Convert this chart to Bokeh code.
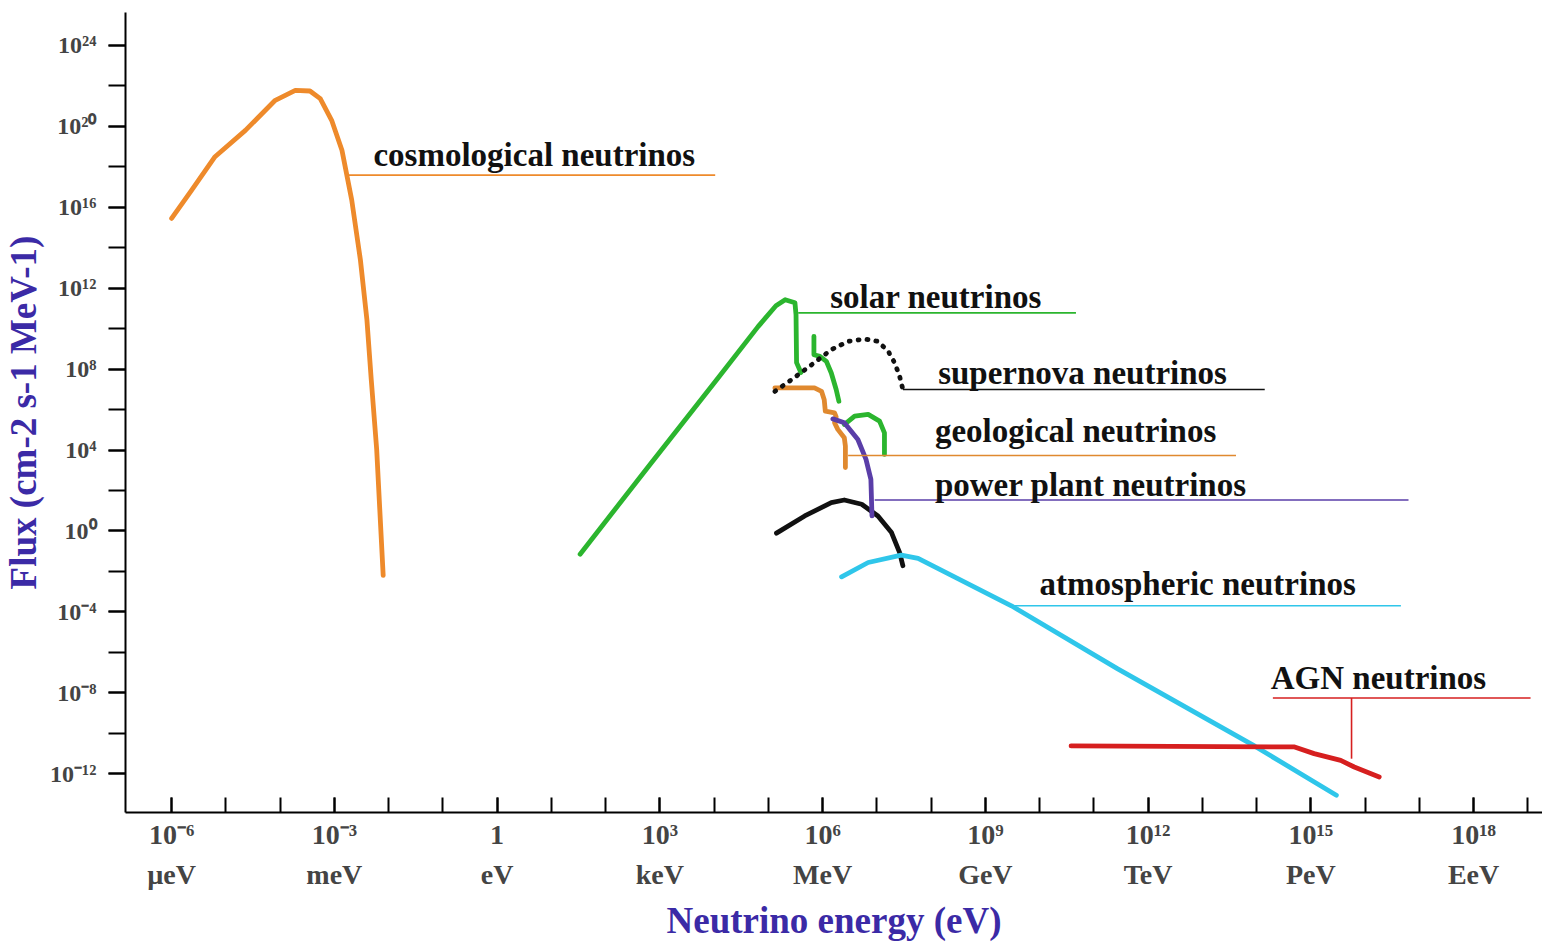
import numpy as np
from bokeh.plotting import figure
from bokeh.models import Range1d, FixedTicker, CustomJSTickFormatter
from bokeh.core.properties import value
from bokeh.embed import file_html
from bokeh.resources import INLINE

# ---------------- data (log10 energy [eV], log10 flux) ----------------
cosmo_logE = [-6.0, -5.63, -5.2, -4.64, -4.09, -3.72, -3.45, -3.26, -3.05, -2.86, -2.68, -2.52, -2.4, -2.32, -2.22, -2.1]
cosmo_logF = [15.45, 16.85, 18.5, 19.8, 21.29, 21.78, 21.75, 21.37, 20.3, 18.82, 16.36, 13.4, 10.44, 7.48, 4.03, -2.2]

solar_logE = [1.53, 2.79, 4.08, 4.81, 5.14, 5.31, 5.49, 5.51, 5.52, 5.6]
solar_logF = [-1.15, 3.19, 7.58, 10.1, 11.13, 11.43, 11.28, 10.69, 8.32, 7.83]
solar2_logE = [5.84, 5.84, 5.95, 6.07, 6.16, 6.25, 6.3]
solar2_logF = [9.62, 8.71, 8.63, 8.38, 7.81, 6.99, 6.41]
solar3_logE = [6.4, 6.59, 6.84, 7.05, 7.14, 7.14]
solar3_logF = [5.26, 5.67, 5.76, 5.43, 4.85, 3.78]

supernova_logE = [5.12, 5.43, 5.8, 6.16, 6.47, 6.78, 7.02, 7.21, 7.33, 7.42, 7.48]
supernova_logF = [6.9, 7.48, 8.22, 8.96, 9.37, 9.49, 9.37, 8.88, 8.3, 7.64, 6.99]

geo_logE = [5.12, 5.85, 5.98, 6.03, 6.05, 6.22, 6.25, 6.22, 6.28, 6.4, 6.42, 6.42]
geo_logF = [7.07, 7.07, 6.9, 6.49, 5.92, 5.84, 5.64, 5.35, 5.02, 4.61, 4.19, 3.13]

power_logE = [6.19, 6.4, 6.65, 6.8, 6.89, 6.91]
power_logF = [5.54, 5.35, 4.52, 3.54, 2.55, 0.74]

black_logE = [5.15, 5.67, 6.16, 6.4, 6.72, 7.02, 7.27, 7.42, 7.48]
black_logF = [-0.11, 0.74, 1.4, 1.53, 1.32, 0.74, -0.08, -1.07, -1.72]

atmo_logE = [6.35, 6.84, 7.45, 7.76, 9.48, 11.44, 13.96, 15.47]
atmo_logF = [-2.27, -1.56, -1.2, -1.36, -3.7, -6.82, -10.63, -13.07]

agn_logE = [10.58, 14.7, 15.06, 15.55, 15.8, 16.26]
agn_logF = [-10.63, -10.68, -11.01, -11.34, -11.67, -12.16]

# ---------------- tick labels ----------------
x_label_exps = [-6, -3, 0, 3, 6, 9, 12, 15, 18]
x_label_text = ["10\u207b\u2076\n\u00b5eV", "10\u207b\u00b3\nmeV", "1\neV", "10\u00b3\nkeV", "10\u2076\nMeV",
                "10\u2079\nGeV", "10\u00b9\u00b2\nTeV", "10\u00b9\u2075\nPeV", "10\u00b9\u2078\nEeV"]
x_minor_exps = list(range(-6, 20))
y_label_exps = [24, 20, 16, 12, 8, 4, 0, -4, -8, -12]
y_label_text = ["10\u00b2\u2074", "10\u00b2\u2070", "10\u00b9\u2076", "10\u00b9\u00b2", "10\u2078", "10\u2074",
                "10\u2070", "10\u207b\u2074", "10\u207b\u2078", "10\u207b\u00b9\u00b2"]
y_minor_exps = list(range(-12, 25, 2))

FONT = "Liberation Serif"
AXIS_BLUE = "#3b2aa6"

p = figure(width=1542, height=943, x_axis_type="log", y_axis_type="log",
           x_range=Range1d(10 ** -6.85, 10 ** 19.27), y_range=Range1d(10 ** -13.92, 10 ** 25.63),
           output_backend="svg", toolbar_location=None,
           min_border_left=124, min_border_top=12, min_border_right=0, min_border_bottom=129)
p.outline_line_color = None
p.xgrid.visible = False
p.ygrid.visible = False
p.background_fill_color = "white"

def pw(v):
    return [10 ** a for a in v]

fmt_code = """
const k = Math.round(Math.log10(tick));
const i = exps.indexOf(k);
return i >= 0 ? labs[i] : "";
"""

# x axis
xa = p.xaxis[0]
xa.ticker = FixedTicker(ticks=pw(x_label_exps), minor_ticks=pw(x_minor_exps))
xa.formatter = CustomJSTickFormatter(args=dict(exps=x_label_exps, labs=x_label_text), code=fmt_code)
xa.major_tick_in = 15
xa.major_tick_out = 0
xa.minor_tick_in = 15
xa.minor_tick_out = 0
xa.major_tick_line_width = 2
xa.minor_tick_line_width = 2
xa.axis_line_width = 2
xa.major_label_text_font = FONT
xa.major_label_text_font_style = "bold"
xa.major_label_text_font_size = "28px"
xa.major_label_text_line_height = 1.3
xa.major_label_standoff = 6
xa.axis_label = "Neutrino energy (eV)"
xa.axis_label_text_font = FONT
xa.axis_label_text_font_style = "bold"
xa.axis_label_text_font_size = "37px"
xa.axis_label_text_color = AXIS_BLUE
xa.axis_label_standoff = 7

# y axis
ya = p.yaxis[0]
ya.ticker = FixedTicker(ticks=pw(y_label_exps), minor_ticks=pw(y_minor_exps))
ya.formatter = CustomJSTickFormatter(args=dict(exps=y_label_exps, labs=y_label_text), code=fmt_code)
ya.major_tick_in = 0
ya.major_tick_out = 17
ya.minor_tick_in = 0
ya.minor_tick_out = 17
ya.major_tick_line_width = 2
ya.minor_tick_line_width = 2
ya.axis_line_width = 2
ya.major_label_text_font = FONT
ya.major_label_text_font_style = "bold"
ya.major_label_text_font_size = "24px"
ya.major_label_standoff = 12
ya.axis_label = "Flux (cm-2 s-1 MeV-1)"
ya.axis_label_text_font = FONT
ya.axis_label_text_font_style = "bold"
ya.axis_label_text_font_size = "37px"
ya.axis_label_text_color = AXIS_BLUE
ya.axis_label_standoff = 3

ORANGE = "#ee8a2b"
GEO_ORANGE = "#e0892f"
GREEN = "#2bb52e"
PURPLE = "#5a3ea8"
CYAN = "#2fc6ea"
RED = "#d61f1f"
BLACK = "#111111"

LW = 4.8
def curve(xs, ys, color, **kw):
    p.line(pw(xs), pw(ys), line_color=color, line_width=LW, line_cap="round", line_join="round", **kw)

curve(cosmo_logE, cosmo_logF, ORANGE)
curve(black_logE, black_logF, BLACK)
curve(atmo_logE, atmo_logF, CYAN)
curve(agn_logE, agn_logF, RED)
curve(solar_logE, solar_logF, GREEN)
curve(solar2_logE, solar2_logF, GREEN)
curve(solar3_logE, solar3_logF, GREEN)
curve(geo_logE, geo_logF, GEO_ORANGE)
curve(power_logE, power_logF, PURPLE)
p.line(pw(supernova_logE), pw(supernova_logF), line_color=BLACK, line_width=4.8,
       line_dash="1 8", line_cap="round")

# ---------------- labels with leader lines ----------------
def leader(x0, x1, y, color):
    p.line([10 ** x0, 10 ** x1], [10 ** y, 10 ** y], line_color=color, line_width=1.6)

def label(x, y, txt):
    p.text(x=[10 ** x], y=[10 ** y], text=[txt], text_font=value(FONT), text_font_style="bold",
           text_font_size="33px", text_align="left", text_baseline="middle", text_color="#111111")

leader(-2.74, 4.02, 17.59, ORANGE)
label(-2.28, 18.58, "cosmological neutrinos")

leader(5.55, 10.67, 10.78, GREEN)
label(6.14, 11.57, "solar neutrinos")

leader(7.48, 14.15, 6.99, BLACK)
label(8.13, 7.83, "supernova neutrinos")

leader(6.47, 13.62, 3.73, GEO_ORANGE)
label(8.07, 4.92, "geological neutrinos")

leader(6.96, 16.8, 1.53, PURPLE)
label(8.07, 2.25, "power plant neutrinos")

leader(9.46, 16.66, -3.7, CYAN)
label(10.0, -2.63, "atmospheric neutrinos")

leader(14.3, 19.05, -8.26, RED)
p.line([10 ** 15.75, 10 ** 15.75], [10 ** -8.26, 10 ** -11.26], line_color=RED, line_width=1.6)
label(14.26, -7.26, "AGN neutrinos")

open("out.html", "w").write(file_html(p, INLINE))
